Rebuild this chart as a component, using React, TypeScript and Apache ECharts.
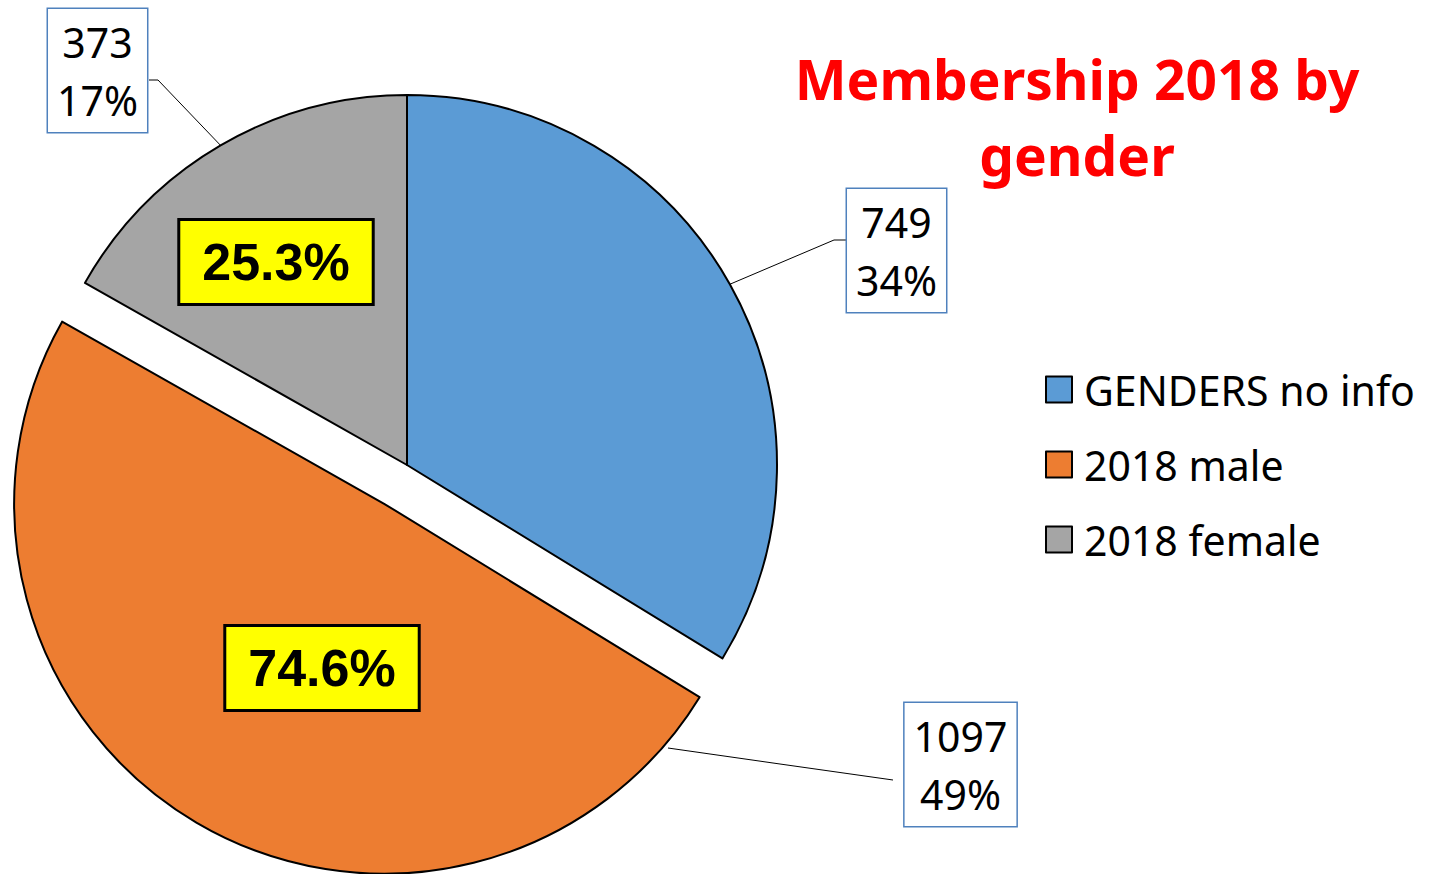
import React, { useEffect, useRef } from "react";
import * as echarts from "echarts";

const categories = ["GENDERS no info", "2018 male", "2018 female"];
const members = [749, 1097, 373];
const percentLabels = ["34%", "49%", "17%"];
const insideLabels = ["", "74.6%", "25.3%"];
const colors = ["#5B9BD5", "#ED7D31", "#A5A5A5"];
const exploded = [false, true, false];

// outside label boxes: [center x, top y], and the leader-line bends
const outerBoxes = [
  [896.5, 189],
  [960.5, 703],
  [97.5, 9],
];
const outerLines = [
  { start: null, mid: [834, 240], end: [847, 240] },
  { start: [668, 748], mid: [780, 764], end: [893, 780] },
  { start: null, mid: [158, 80], end: [149, 80] },
];
const innerCenters = [
  [0, 0],
  [322, 668],
  [276, 262],
];

const FONT = "Noto Sans";
const CENTER = [407, 465];
const RADIUS = 370;

export default function App() {
  const ref = useRef<HTMLDivElement>(null);
  useEffect(() => {
    if (!ref.current) return;
    const chart = echarts.init(ref.current, undefined, { renderer: "svg" });
    const mainData = categories.map((name, i) => ({
      name,
      value: members[i],
      selected: exploded[i],
      itemStyle: { color: colors[i] },
    }));
    const outerData = categories.map((name, i) => ({ name, value: members[i] }));
    const innerData = categories.map((name, i) => ({
      name,
      value: members[i],
      label: { show: insideLabels[i] !== "" },
    }));
    const ghost = {
      type: "pie",
      center: CENTER,
      radius: RADIUS,
      startAngle: 90,
      clockwise: true,
      silent: true,
      selectedMode: false,
      avoidLabelOverlap: false,
      itemStyle: { color: "rgba(0,0,0,0)", borderWidth: 0 },
      emphasis: { disabled: true },
    };
    chart.setOption({
      animation: false,
      backgroundColor: "#ffffff",
      title: {
        text: "Membership 2018 by\ngender",
        left: 1072,
        top: 35,
        textAlign: "center",
        textStyle: {
          fontFamily: FONT,
          fontWeight: "bold",
          fontSize: 55,
          lineHeight: 76,
          color: "#FF0000",
        },
      },
      legend: {
        orient: "vertical",
        left: 1040,
        top: 364,
        data: categories,
        icon: "rect",
        itemWidth: 26,
        itemHeight: 26,
        itemGap: 34,
        selectedMode: false,
        textStyle: {
          fontFamily: FONT,
          fontSize: 41,
          lineHeight: 40,
          color: "#000",
          padding: [0, 0, 0, 7],
        },
      },
      series: [
        {
          type: "pie",
          center: CENTER,
          radius: RADIUS,
          startAngle: 90,
          clockwise: true,
          selectedMode: "single",
          selectedOffset: 45,
          data: mainData,
          itemStyle: { borderColor: "#000", borderWidth: 2 },
          emphasis: { disabled: true },
          label: { show: false },
          labelLine: { show: false },
        },
        {
          ...ghost,
          data: outerData,
          label: {
            show: true,
            position: "outside",
            formatter: (p: any) => `${members[p.dataIndex]}\n${percentLabels[p.dataIndex]}`,
            fontFamily: FONT,
            fontSize: 41,
            lineHeight: 58,
            color: "#000",
            align: "center",
            backgroundColor: "#fff",
            borderColor: "#4F81BD",
            borderWidth: 1.5,
            padding: [4, 9, 3, 9],
          },
          labelLine: {
            show: true,
            length: 20,
            length2: 10,
            lineStyle: { color: "#000", width: 1 },
          },
          labelLayout: (p: any) => {
            const i = p.dataIndex;
            const ln = outerLines[i];
            const start = ln.start ? ln.start : p.labelLinePoints ? p.labelLinePoints[0] : ln.mid;
            return {
              x: outerBoxes[i][0],
              y: outerBoxes[i][1],
              align: "center",
              verticalAlign: "top",
              labelLinePoints: [start, ln.mid, ln.end],
            };
          },
        },
        {
          ...ghost,
          data: innerData,
          labelLine: { show: false },
          label: {
            position: "inside",
            formatter: (p: any) => insideLabels[p.dataIndex],
            fontFamily: "Liberation Sans",
            fontWeight: "bold",
            fontSize: 52,
            lineHeight: 52,
            color: "#000",
            backgroundColor: "#FFFF00",
            borderColor: "#000",
            borderWidth: 3,
            padding: [15, 22, 15, 22],
          },
          labelLayout: (p: any) => ({
            x: innerCenters[p.dataIndex][0],
            y: innerCenters[p.dataIndex][1],
            align: "center",
            verticalAlign: "middle",
          }),
        },
      ],
    });
    return () => chart.dispose();
  }, []);
  return (
    <div
      ref={ref}
      style={{ position: "fixed", left: 0, top: 0, width: 1433, height: 874, background: "#fff" }}
    />
  );
}
